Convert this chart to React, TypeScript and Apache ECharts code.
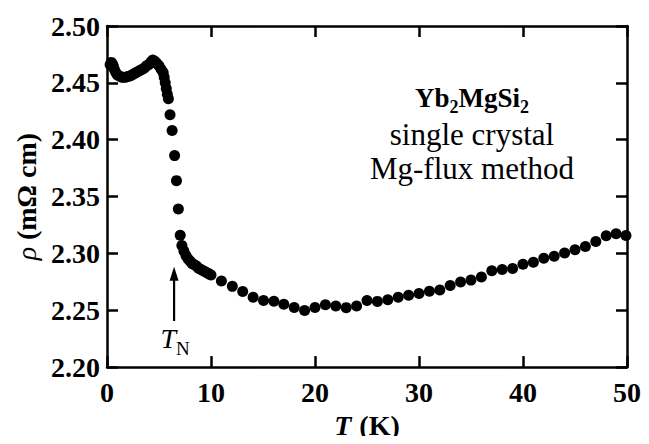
import React, { useEffect, useRef } from "react";
import * as echarts from "echarts";

const temperatureK = [
  0.3, 0.4, 0.5, 0.6, 0.7, 0.85, 1.0, 1.2, 1.4, 1.6, 1.8, 2.0, 2.2, 2.4, 2.6, 2.8,
  3.0, 3.2, 3.4, 3.6, 3.8, 4.0, 4.2, 4.4, 4.6, 4.8, 5.0, 5.2, 5.4, 5.5, 5.6, 5.7,
  5.8, 5.9, 6.06, 6.26, 6.5, 6.68, 6.86, 7.04, 7.2, 7.4, 7.6, 7.8, 8.0, 8.2, 8.4,
  8.6, 8.8, 9.0, 9.2, 9.4, 9.6, 9.8, 10.0, 11.0, 12.05, 13.05, 14.05, 15.05, 16.05,
  17.0, 18.0, 19.0, 20.0, 21.0, 22.0, 23.0, 24.0, 25.0, 26.0, 27.0, 28.0, 29.0,
  30.0, 31.0, 32.0, 33.0, 34.0, 35.0, 36.0, 37.0, 38.0, 39.0, 40.0, 41.0, 42.0,
  43.0, 44.0, 45.0, 46.0, 47.0, 48.0, 48.95, 49.9,
];

const resistivity = [
  2.466, 2.468, 2.467, 2.465, 2.462, 2.459, 2.457, 2.456, 2.455, 2.455, 2.455, 2.4555,
  2.456, 2.457, 2.458, 2.459, 2.46, 2.461, 2.462, 2.463, 2.465, 2.466, 2.468, 2.47,
  2.469, 2.467, 2.465, 2.462, 2.459, 2.455, 2.45, 2.445, 2.44, 2.436, 2.422, 2.408,
  2.386, 2.364, 2.339, 2.316, 2.307, 2.302, 2.298, 2.295, 2.293, 2.291, 2.29, 2.289,
  2.287, 2.286, 2.285, 2.284, 2.283, 2.282, 2.281, 2.2757, 2.271, 2.2665, 2.2615,
  2.2585, 2.258, 2.2552, 2.2525, 2.2498, 2.2525, 2.2548, 2.2538, 2.2523, 2.2538,
  2.2585, 2.2578, 2.2592, 2.2615, 2.2632, 2.2648, 2.2668, 2.2678, 2.2718, 2.2748,
  2.2765, 2.2792, 2.2848, 2.2858, 2.2868, 2.2905, 2.2922, 2.2958, 2.2975, 2.3003,
  2.3032, 2.306, 2.3105, 2.3155, 2.3172, 2.3158,
];

const arrowT = [6.45, 6.45];
const arrowRho = [2.2405, 2.281];
const arrowHead = [6.45, 2.2821];
const tnLabelPos = [6.55, 2.2121];

const FONT = "'Liberation Serif', 'Times New Roman', serif";

export default function App() {
  const ref = useRef<HTMLDivElement>(null);
  useEffect(() => {
    if (!ref.current) return;
    const chart = echarts.init(ref.current, null, { renderer: "svg" });
    const lineSt = { color: "#000", width: 2.5 };
    const axisCommon = {
      min: 0,
      max: 50,
      interval: 10,
      axisLine: { show: true, onZero: false, lineStyle: lineSt },
      axisTick: { show: true, inside: true, length: 11, lineStyle: lineSt },
      splitLine: { show: false },
    };
    const yCommon = {
      min: 2.2,
      max: 2.5,
      interval: 0.05,
      axisLine: { show: true, onZero: false, lineStyle: lineSt },
      axisTick: { show: true, inside: true, length: 11, lineStyle: lineSt },
      splitLine: { show: false },
    };
    chart.setOption({
      animation: false,
      backgroundColor: "#fff",
      grid: { left: 107, right: 22, top: 26, bottom: 72, containLabel: false },
      xAxis: [
        {
          type: "value",
          position: "bottom",
          ...axisCommon,
          axisLabel: {
            show: true,
            margin: 11,
            color: "#000",
            fontFamily: FONT,
            fontWeight: "bold",
            fontSize: 28,
          },
          name: "{i|T}{b|(K)}",
          nameLocation: "middle",
          nameGap: 42,
          nameTextStyle: {
            rich: {
              i: { fontFamily: FONT, fontWeight: "bold", fontStyle: "italic", fontSize: 28, color: "#000", padding: [0, 8, 0, 0] },
              b: { fontFamily: FONT, fontWeight: "bold", fontSize: 28, color: "#000" },
            },
          },
        },
        {
          type: "value",
          position: "top",
          ...axisCommon,
          axisLabel: { show: false },
        },
      ],
      yAxis: [
        {
          type: "value",
          position: "left",
          ...yCommon,
          axisLabel: {
            show: true,
            margin: 7,
            color: "#000",
            fontFamily: FONT,
            fontWeight: "bold",
            fontSize: 28,
            formatter: (v: number) => v.toFixed(2),
          },
          name: "{i|ρ}  {b|(mΩ cm)}",
          nameLocation: "middle",
          nameRotate: 90,
          nameGap: 65,
          nameTextStyle: {
            rich: {
              i: { fontFamily: FONT, fontStyle: "italic", fontSize: 28, color: "#000" },
              b: { fontFamily: FONT, fontWeight: "bold", fontSize: 28, color: "#000" },
            },
          },
        },
        {
          type: "value",
          position: "right",
          ...yCommon,
          axisLabel: { show: false },
        },
      ],
      series: [
        {
          type: "scatter",
          xAxisIndex: 0,
          yAxisIndex: 0,
          symbol: "circle",
          symbolSize: 11,
          itemStyle: { color: "#000", opacity: 1 },
          data: temperatureK.map((t, i) => [t, resistivity[i]]),
          z: 3,
        },
        {
          type: "line",
          xAxisIndex: 0,
          yAxisIndex: 0,
          data: arrowT.map((t, i) => [t, arrowRho[i]]),
          showSymbol: false,
          symbol: "none",
          itemStyle: { color: "#000" },
          lineStyle: { color: "#000", width: 2.2, opacity: 1 },
          z: 2,
        },
        {
          type: "scatter",
          xAxisIndex: 0,
          yAxisIndex: 0,
          symbol: "triangle",
          symbolSize: [9, 14],
          itemStyle: { color: "#000", opacity: 1 },
          data: [arrowHead],
          z: 2,
        },
        {
          type: "scatter",
          xAxisIndex: 0,
          yAxisIndex: 0,
          symbol: "circle",
          symbolSize: 1,
          itemStyle: { color: "#fff", opacity: 0.01 },
          data: [tnLabelPos],
          label: {
            show: true,
            position: "top",
            distance: 0,
            color: "#000",
            opacity: 1,
            formatter: "{t|T}{n|N}",
            rich: {
              t: { fontFamily: FONT, fontStyle: "italic", fontSize: 28, color: "#000", lineHeight: 30, verticalAlign: "bottom" },
              n: { fontFamily: FONT, fontSize: 19, color: "#000", lineHeight: 30, verticalAlign: "bottom", padding: [0, 0, -5, 0] },
            },
          },
        },
      ],
      graphic: [
        {
          type: "text",
          x: 472,
          y: 97,
          style: {
            text: "{b|Yb}{s|2}{b|MgSi}{s|2}",
            align: "center",
            verticalAlign: "middle",
            rich: {
              b: { fontFamily: FONT, fontWeight: "bold", fontSize: 27, fill: "#000", color: "#000", lineHeight: 28, verticalAlign: "bottom" },
              s: { fontFamily: FONT, fontWeight: "bold", fontSize: 18, fill: "#000", color: "#000", lineHeight: 28, verticalAlign: "bottom", padding: [0, 0, -5, 0] },
            },
          },
        },
        {
          type: "text",
          x: 472,
          y: 134,
          style: {
            text: "single crystal",
            fontFamily: FONT,
            fontSize: 31,
            lineHeight: 31,
            fill: "#000",
            align: "center",
            verticalAlign: "middle",
          },
        },
        {
          type: "text",
          x: 472,
          y: 168,
          style: {
            text: "Mg-flux method",
            fontFamily: FONT,
            fontSize: 31,
            lineHeight: 31,
            fill: "#000",
            align: "center",
            verticalAlign: "middle",
          },
        },
      ],
    });
    return () => chart.dispose();
  }, []);
  return <div ref={ref} style={{ width: 649, height: 444, margin: -8 }} />;
}
